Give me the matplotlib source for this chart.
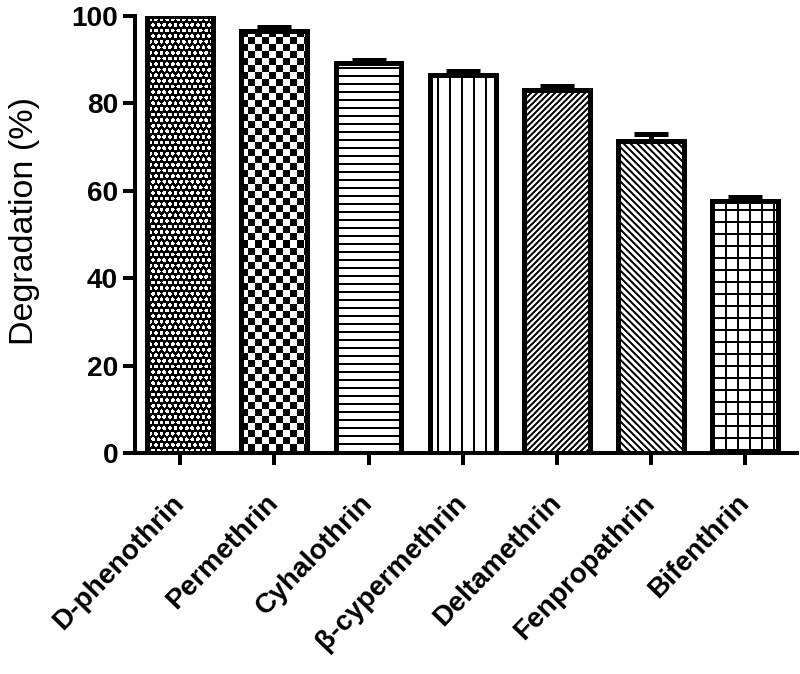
import numpy as np
import matplotlib
matplotlib.use("Agg")
import matplotlib.pyplot as plt

# values
compounds = ["D-phenothrin", "Permethrin", "Cyhalothrin", "β-cypermethrin",
             "Deltamethrin", "Fenpropathrin", "Bifenthrin"]
degradation = [100.0, 96.6, 89.2, 86.6, 83.0, 71.5, 57.6]
sd = [0.3, 0.8, 0.7, 0.8, 1.0, 1.6, 1.0]
yticks = [0, 20, 40, 60, 80, 100]

# fill style for each bar: None means a texture image is used instead
hatches = [None, None, "---", "||", "/" * 8, "\\" * 7, "++"]

DPI = 144
plt.rcParams["font.family"] = ["Liberation Sans", "DejaVu Sans"]
plt.rcParams["hatch.linewidth"] = 1.0

fig = plt.figure(figsize=(800 / DPI, 674 / DPI), dpi=DPI)
ax = fig.add_axes([135 / 800, 1 - 453 / 674, 662 / 800, 437 / 674])

x = np.arange(len(compounds))
width = 0.7
xlim = (-0.48, 6.55)
ylim = (0, 100)

bars = ax.bar(x, degradation, width=width, facecolor="white",
              edgecolor="black", linewidth=2.5, zorder=3)
for b, h in zip(bars, hatches):
    if h:
        b.set_hatch(h)

ax.set_xlim(*xlim)
ax.set_ylim(*ylim)


def texture(kind, nx, ny):
    r, c = np.mgrid[0:ny, 0:nx]
    if kind == "checker":
        s = 7
        return ((r // s + c // s) % 2).astype(float)
    # white dots on black, alternate rows shifted
    s = 5.6
    row = np.floor(r / s)
    cy = row * s + s / 2
    cx = np.round((c - (row % 2) * s / 2 - s / 2) / s) * s + (row % 2) * s / 2 + s / 2
    d = np.hypot(r - cy, c - cx)
    return (d < 1.9).astype(float)


for i, kind in [(0, "dots"), (1, "checker")]:
    bars[i].set_facecolor("none")
    x0, x1 = x[i] - width / 2, x[i] + width / 2
    p0 = ax.transData.transform((x0, 0))
    p1 = ax.transData.transform((x1, degradation[i]))
    nx = int(round(p1[0] - p0[0]))
    ny = int(round(p1[1] - p0[1]))
    im = ax.imshow(texture(kind, nx, ny), extent=(x0, x1, 0, degradation[i]),
                   cmap="gray", vmin=0, vmax=1, interpolation="nearest",
                   aspect="auto", zorder=2.5)
    im.set_clip_path(bars[i])

ax.set_xlim(*xlim)
ax.set_ylim(*ylim)

ax.errorbar(x, degradation, yerr=[np.zeros(len(sd)), sd], fmt="none",
            ecolor="black", elinewidth=2.5, capsize=8.5, capthick=2.5,
            zorder=4)

for side in ["top", "right"]:
    ax.spines[side].set_visible(False)
for side in ["left", "bottom"]:
    ax.spines[side].set_linewidth(2)
    ax.spines[side].set_zorder(5)

ax.set_yticks(yticks)
ax.set_yticklabels([str(v) for v in yticks], fontsize=14, fontweight="bold")
ax.set_xticks(x)
ax.set_xticklabels(compounds, fontsize=14, fontweight="bold", rotation=46,
                   ha="right", va="center", rotation_mode="anchor")
ax.tick_params(axis="both", length=6, width=2)
ax.tick_params(axis="y", pad=2.5)
ax.tick_params(axis="x", pad=17)
ax.set_ylabel("Degradation (%)", fontsize=17)
ax.yaxis.set_label_coords(-0.143, 0.53)

fig.savefig("out.png", dpi=DPI)
